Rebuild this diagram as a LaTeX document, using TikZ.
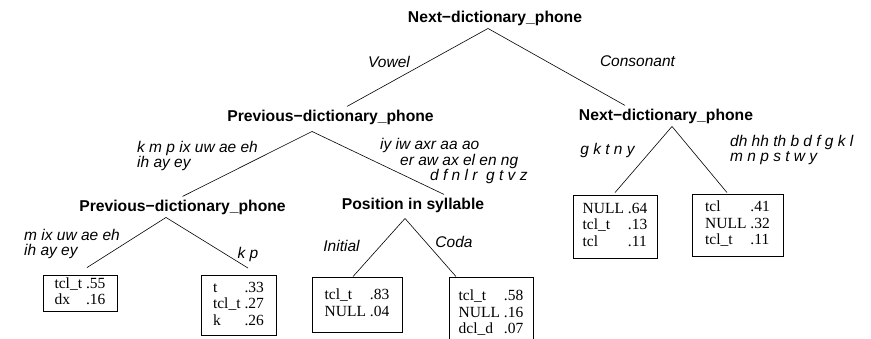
\documentclass[tikz,border=0pt]{standalone}
\usepackage{fontspec}
\setmainfont{Liberation Serif}
\setsansfont{Liberation Sans}
\begin{document}
\begin{tikzpicture}[x=1pt,y=-1pt,
  head/.style={font=\fontsize{15.7}{18}\selectfont\sffamily\bfseries, inner sep=3pt, anchor=base},
  lab/.style={font=\fontsize{15.5}{15.5}\selectfont\sffamily\itshape, inner sep=0pt, align=left},
  leaf/.style={draw, line width=0.9pt, font=\fontsize{15.5}{16.5}\selectfont, inner sep=0pt},
  edge/.style={line width=0.6pt}]
\useasboundingbox[fill=white] (0,0) rectangle (871,338);
% split headings
\node[head] (root) at (495,22) {Next−dictionary\_phone};
\node[head] (l2l) at (330.5,121) {Previous−dictionary\_phone};
\node[head] (l2r) at (666,120) {Next−dictionary\_phone};
\node[head] (l3l) at (182.5,211) {Previous−dictionary\_phone};
\node[head] (pos) at (413,209) {Position in syllable};
% leaves
\node[leaf, minimum width=74pt, minimum height=36pt] (b1) at (80,293)
  {\begin{tabular}{@{}l@{\hspace{4pt}}l@{}}tcl\_t & .55\\ dx & .16\end{tabular}};
\node[leaf, minimum width=75pt, minimum height=60pt] (b2) at (238.5,305.5)
  {\begin{tabular}{@{}l@{\hspace{4pt}}l@{}}t & .33\\ tcl\_t & .27\\ k & .26\end{tabular}};
\node[leaf, minimum width=90pt, minimum height=55pt] (b3) at (357,304.5)
  {\begin{tabular}{@{}l@{\hspace{4pt}}l@{}}tcl\_t & .83\\ NULL & .04\end{tabular}};
\node[leaf, minimum width=84pt, minimum height=74pt] (b4) at (491,314)
  {\begin{tabular}{@{}l@{\hspace{4pt}}l@{}}tcl\_t & .58\\ NULL & .16\\ dcl\_d & .07\end{tabular}};
\node[leaf, minimum width=84pt, minimum height=63pt] (b5) at (615,226.5)
  {\begin{tabular}{@{}l@{\hspace{4pt}}l@{}}NULL & .64\\ tcl\_t & .13\\ tcl & .11\end{tabular}};
\node[leaf, minimum width=91pt, minimum height=62pt] (b6) at (737.5,225)
  {\begin{tabular}{@{}l@{\hspace{4pt}}l@{}}tcl & .41\\ NULL & .32\\ tcl\_t & .11\end{tabular}};
% branch labels
\node[lab] (lvow) at (389,62) {Vowel};
\node[lab] (lcons) at (637.5,61) {Consonant};
\node[lab, anchor=west] (lkmp) at (137,156) {k m p ix uw ae eh\\ih ay ey};
\node[lab, anchor=west] (liy) at (380,161) {iy iw axr aa ao\\\hspace*{20pt}er aw ax el en ng\\\hspace*{50pt}d f n l r\ \ g t v z};
\node[lab] (lgk) at (607.5,150) {g k t n y};
\node[lab, anchor=west] (ldh) at (730,150) {dh hh th b d f g k l\\m n p s t w y};
\node[lab, anchor=west] (lmix) at (24,244) {m ix uw ae eh\\ih ay ey};
\node[lab] (lkp) at (248,254) {k p};
\node[lab] (lini) at (341.5,246) {Initial};
\node[lab] (lcoda) at (454,242) {Coda};
% connectors
\draw[edge] ([xshift=-7pt]root.south) -- ([xshift=16.5pt]l2l.north);
\draw[edge] ([xshift=-7pt]root.south) -- ([xshift=-41pt]l2r.north);
\draw[edge] ([xshift=-18.5pt,yshift=-4pt]l2l.south) -- (l3l.north);
\draw[edge] ([xshift=-18.5pt,yshift=-4pt]l2l.south) -- ([xshift=31pt]pos.north);
\draw[edge] ([xshift=-16.5pt]l3l.south) -- ([xshift=7pt,yshift=7pt]b1.north);
\draw[edge] ([xshift=-16.5pt]l3l.south) -- ([xshift=9.5pt,yshift=7pt]b2.north);
\draw[edge] ([xshift=-8pt,yshift=-3pt]pos.south) -- ([xshift=-4pt]b3.north);
\draw[edge] ([xshift=-8pt,yshift=-3pt]pos.south) -- ([xshift=-35pt]b4.north);
\draw[edge] ([xshift=6pt]l2r.south) -- ([yshift=2pt]b5.north);
\draw[edge] ([xshift=6pt]l2r.south) -- ([xshift=-10.5pt,yshift=1pt]b6.north);
\end{tikzpicture}
\end{document}
